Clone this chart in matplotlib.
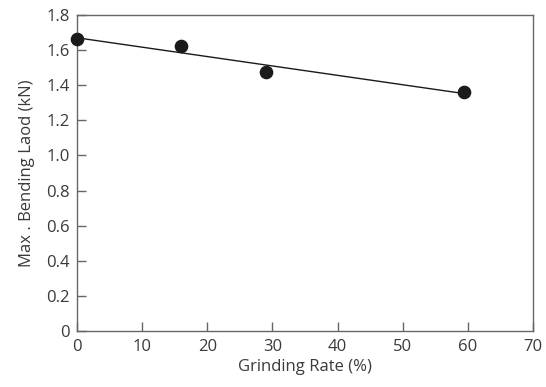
import numpy as np
import matplotlib.pyplot as plt

plt.rcParams['font.family'] = ['Open Sans', 'DejaVu Sans']

rate = [0, 16, 29, 59.4]
load = [1.662, 1.626, 1.474, 1.362]

xticks = [0, 10, 20, 30, 40, 50, 60, 70]
yticks = [0, 0.2, 0.4, 0.6, 0.8, 1.0, 1.2, 1.4, 1.6, 1.8]
ylabels = ["0", "0.2", "0.4", "0.6", "0.8", "1.0", "1.2", "1.4", "1.6", "1.8"]

fig = plt.figure(figsize=(5.46, 3.87), dpi=100)
ax = fig.add_axes([0.141, 0.145, 0.835, 0.816])

# linear fit through the points
k, b = np.polyfit(rate, load, 1)
xf = np.array([rate[0], rate[-1]])
ax.plot(xf, k*xf + b, color="#1a1a1a", lw=1.0, clip_on=False)
ax.plot(rate, load, "o", color="#1a1a1a", ms=8.8, clip_on=False, zorder=3)

ax.set_xlim(0, 70)
ax.set_ylim(0, 1.8)
ax.set_xticks(xticks)
ax.set_yticks(yticks)
ax.set_yticklabels(ylabels)

for s in ax.spines.values():
    s.set_color("#666666")
    s.set_linewidth(1.0)
ax.tick_params(direction="in", length=6.5, width=1.0, color="#666666",
               labelcolor="#3a3a3a", labelsize=12, top=False, right=False)
ax.tick_params(axis="x", pad=6)
ax.tick_params(axis="y", pad=5)

ax.set_xlabel("Grinding Rate (%)", fontsize=12, color="#3a3a3a", labelpad=3)
ax.set_ylabel("Max . Bending Laod (kN)", fontsize=12, color="#3a3a3a", labelpad=8)

fig.savefig("out.png", dpi=100)
